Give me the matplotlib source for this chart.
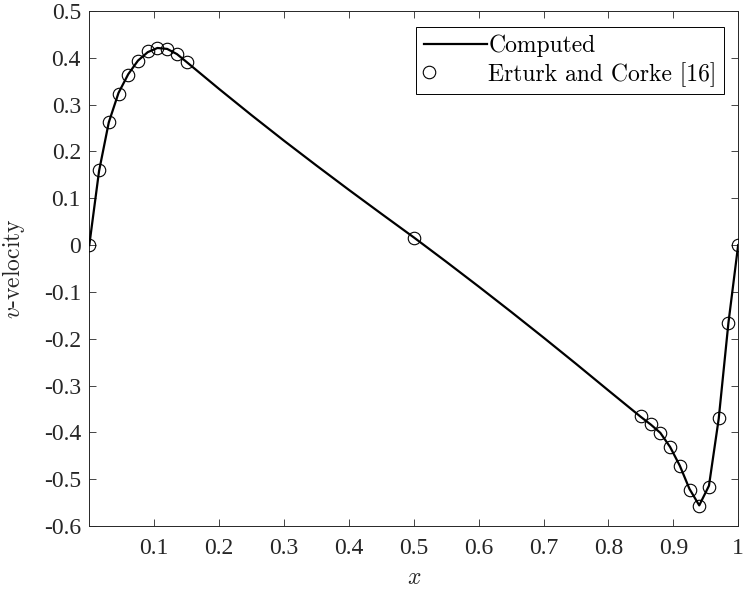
import matplotlib
matplotlib.use("Agg")
import matplotlib.pyplot as plt
from matplotlib.legend_handler import HandlerLine2D
from matplotlib.ticker import FixedLocator, FixedFormatter

# ---- data ----
comp_x = [0.0, 0.015, 0.03, 0.045, 0.06, 0.075, 0.09, 0.105, 0.12, 0.135, 0.15,
          0.2, 0.25, 0.3, 0.35, 0.4, 0.45, 0.5, 0.55, 0.6, 0.65, 0.7, 0.75, 0.8,
          0.85, 0.865, 0.88, 0.895, 0.91, 0.925, 0.94, 0.955, 0.97, 0.985, 1.0]
comp_v = [0.0, 0.158, 0.262, 0.325, 0.365, 0.394, 0.412, 0.421, 0.419, 0.408, 0.391,
          0.3335, 0.2775, 0.223, 0.170, 0.118, 0.067, 0.0165, -0.0355, -0.0885,
          -0.1425, -0.1975, -0.2535, -0.3105, -0.367, -0.383, -0.401, -0.431,
          -0.471, -0.521, -0.556, -0.514, -0.371, -0.166, 0.0]

ref_x = [0.0, 0.015, 0.03, 0.045, 0.06, 0.075, 0.09, 0.105, 0.12, 0.135, 0.15,
         0.5, 0.85, 0.865, 0.88, 0.895, 0.91, 0.925, 0.94, 0.955, 0.97, 0.985, 1.0]
ref_v = [0.0, 0.161, 0.263, 0.323, 0.364, 0.394, 0.414, 0.422, 0.418, 0.408, 0.392,
         0.016, -0.365, -0.382, -0.402, -0.431, -0.472, -0.524, -0.557, -0.516,
         -0.370, -0.166, 0.0]

xtick_vals = [0.1, 0.2, 0.3, 0.4, 0.5, 0.6, 0.7, 0.8, 0.9, 1.0]
xtick_labels = ["0.1", "0.2", "0.3", "0.4", "0.5", "0.6", "0.7", "0.8", "0.9", "1"]
ytick_vals = [-0.6, -0.5, -0.4, -0.3, -0.2, -0.1, 0.0, 0.1, 0.2, 0.3, 0.4, 0.5]
ytick_labels = ["-0.6", "-0.5", "-0.4", "-0.3", "-0.2", "-0.1", "0",
                "0.1", "0.2", "0.3", "0.4", "0.5"]

plt.rcParams["mathtext.fontset"] = "cm"
plt.rcParams["font.family"] = ["Liberation Serif", "DejaVu Serif"]

gray = (0.15, 0.15, 0.15)
FS = 17

fig = plt.figure(figsize=(7.43, 5.94), dpi=100)
ax = fig.add_axes([0.1202, 0.1145, 0.9935 - 0.1202, 0.9815 - 0.1145])

ax.plot(comp_x, comp_v, color="black", lw=1.6, label="Computed", zorder=3)
ax.plot(ref_x, ref_v, linestyle="none", marker="o", ms=9, mfc="none",
        mec="black", mew=0.8, label="Erturk and Corke [16]", zorder=4)

ax.set_xlim(0, 1)
ax.set_ylim(-0.6, 0.5)
ax.xaxis.set_major_locator(FixedLocator(xtick_vals))
ax.xaxis.set_major_formatter(FixedFormatter(xtick_labels))
ax.yaxis.set_major_locator(FixedLocator(ytick_vals))
ax.yaxis.set_major_formatter(FixedFormatter(ytick_labels))

ax.tick_params(direction="in", length=5, width=0.6, top=True, right=True,
               labelsize=FS, colors=gray)
ax.tick_params(axis="x", pad=9)
ax.tick_params(axis="y", pad=6)
for s in ax.spines.values():
    s.set_color(gray)
    s.set_linewidth(0.7)

ax.set_xlabel("$x$", fontsize=FS, color=gray, labelpad=6)
ax.set_ylabel("$v$-velocity", fontsize=FS, color=gray, family="cmr10", labelpad=12)


class LeftMarkerHandler(HandlerLine2D):
    def create_artists(self, legend, orig_handle, xdescent, ydescent, width,
                       height, fontsize, trans):
        artists = super().create_artists(legend, orig_handle, xdescent, ydescent,
                                         width, height, fontsize, trans)
        for a in artists:
            if a.get_marker() not in (None, "None", "none", ""):
                a.set_xdata([-xdescent + width * 0.09])
        return artists


handles, labels = ax.get_legend_handles_labels()
leg = ax.legend(handles, labels, loc="upper right",
                bbox_to_anchor=(0.978, 0.968),
                prop={"family": "cmr10", "size": FS},
                frameon=True, fancybox=False, edgecolor="black",
                framealpha=1, handlelength=2.7, handletextpad=0.05,
                borderpad=0.3, labelspacing=0.2, borderaxespad=0,
                handler_map={handles[1]: LeftMarkerHandler()})
leg.get_frame().set_linewidth(0.7)

fig.savefig("out.png", dpi=100)
